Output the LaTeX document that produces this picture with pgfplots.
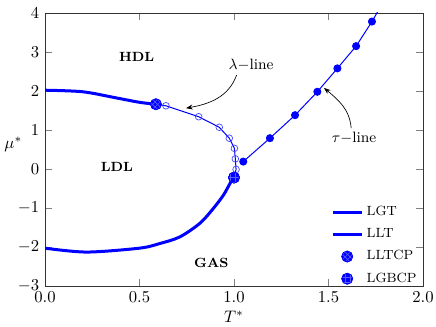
\documentclass[border=0pt]{standalone}
\usepackage{pgfplots}
\pgfplotsset{compat=1.18}
\usetikzlibrary{patterns,arrows.meta}
\begin{document}
\begin{tikzpicture}
\begin{axis}[
  scale only axis,
  width=226.8pt, height=163.8pt,
  xmin=0, xmax=2, ymin=-3, ymax=4,
  xtick={0,0.5,1,1.5,2},
  ytick={-3,-2,-1,0,1,2,3,4},
  xticklabel style={/pgf/number format/fixed, /pgf/number format/fixed zerofill, /pgf/number format/precision=1},
  tick align=inside,
  xtick pos=both, ytick pos=both,
  axis line style={black!80},
  xlabel={$T^*$},
  ylabel={$\mu^*$},
  ylabel style={rotate=-90, at={(axis description cs:0,0.52)}, anchor=center, xshift=-19pt},
  xlabel style={yshift=2pt},
  legend style={draw=none, fill=none, at={(axis cs:1.485,-0.78)}, anchor=north west, font=\footnotesize, row sep=2.2pt},
  legend cell align=left,
  legend image code/.code={\draw[#1, line width=1.8pt] (0cm,0cm) -- (0.62cm,0cm);},
  clip=true,
]
% LGT
\addplot[blue, line width=1.8pt, smooth] coordinates {
 (0,-2.03) (0.22,-2.13) (0.5,-2.03) (0.608,-1.91) (0.714,-1.74) (0.820,-1.39) (0.891,-1.01) (0.944,-0.67) (0.979,-0.37) (0.998,-0.22)};
\addlegendentry{LGT}
% LLT
\addplot[blue, line width=1.8pt, smooth] coordinates {
 (0,2.02) (0.2,1.98) (0.38,1.82) (0.50,1.71) (0.587,1.66)};
\addlegendentry{LLT}
% LLTCP
\addplot[only marks, mark=*, mark size=3.3pt, mark options={draw=blue, fill=blue},
  legend image code/.code={
    \draw[mark=*, mark size=3.3pt, mark options={draw=blue, fill=blue}] plot coordinates {(0.31cm,0cm)};
    \draw[mark=*, mark size=3.3pt, mark options={draw=blue, pattern=crosshatch, pattern color=blue!65!white}] plot coordinates {(0.31cm,0cm)};}] coordinates {(0.587,1.66)};
\addlegendentry{LLTCP}
\addplot[only marks, mark=*, mark size=3.3pt, mark options={draw=blue, pattern=crosshatch, pattern color=blue!65!white}, forget plot] coordinates {(0.587,1.66)};
% LGBCP
\addplot[only marks, mark=*, mark size=3.3pt, mark options={draw=blue, fill=blue},
  legend image code/.code={
    \draw[mark=*, mark size=3.3pt, mark options={draw=blue, fill=blue}] plot coordinates {(0.31cm,0cm)};
    \draw[mark=*, mark size=3.3pt, mark options={draw=blue, pattern=grid, pattern color=blue!65!white}] plot coordinates {(0.31cm,0cm)};}] coordinates {(1.0,-0.22)};
\addlegendentry{LGBCP}
% lambda line
\addplot[blue, line width=0.6pt, mark=o, mark size=2pt, mark options={fill=white, draw=blue!75, line width=0.4pt}, forget plot] coordinates {
 (0.64,1.62) (0.813,1.34) (0.922,1.07) (0.975,0.79) (1.002,0.53) (1.007,0.26) (1.011,-0.01)};
\addplot[blue, line width=0.6pt, forget plot] coordinates {(0.587,1.66) (0.64,1.62)};
\addplot[blue, line width=0.6pt, forget plot] coordinates {(1.011,-0.01) (1.0,-0.22)};
\addplot[only marks, mark=*, mark size=3.3pt, mark options={draw=blue, fill=blue}, forget plot] coordinates {(1.0,-0.22)};
\addplot[only marks, mark=*, mark size=3.3pt, mark options={draw=blue, pattern=grid, pattern color=blue!65!white}, forget plot] coordinates {(1.0,-0.22)};
% tau line
\addplot[blue, line width=0.6pt, mark=*, mark size=2.1pt, mark options={fill=blue, draw=blue}, forget plot] coordinates {
 (1.049,0.19) (1.190,0.79) (1.323,1.38) (1.441,1.98) (1.547,2.58) (1.646,3.15) (1.730,3.78)};
\addplot[blue, line width=0.6pt, forget plot] coordinates {(1.730,3.78) (1.78,4.2)};
% annotations
\node[font=\bfseries\footnotesize] at (axis cs:0.485,2.88) {HDL};
\node[font=\bfseries\footnotesize] at (axis cs:0.38,0.05) {LDL};
\node[font=\bfseries\footnotesize] at (axis cs:0.88,-2.42) {GAS};
\node[font=\small] at (axis cs:1.09,2.67) {$\lambda-$line};
\node[font=\small] at (axis cs:1.635,0.80) {$\tau-$line};
\draw[-{Stealth[length=4pt]}, black, line width=0.4pt] (axis cs:1.014,2.41) to[out=-110, in=10] (axis cs:0.746,1.56);
\draw[-{Stealth[length=4pt]}, black, line width=0.4pt] (axis cs:1.62,1.05) to[out=95, in=-40] (axis cs:1.476,2.08);
\end{axis}
\pgfresetboundingbox
\path ([shift={(-27pt,-24.6pt)}]current axis.south west) rectangle ([shift={(7.8pt,7.8pt)}]current axis.north east);
\end{tikzpicture}
\end{document}
